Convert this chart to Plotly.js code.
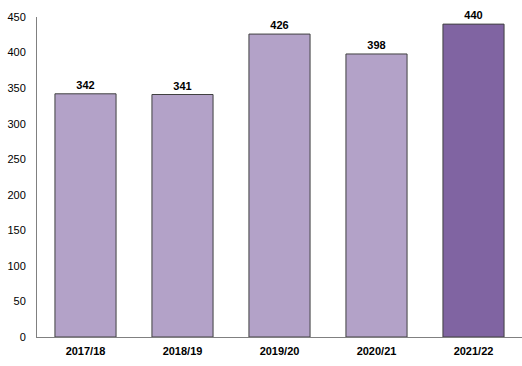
<!DOCTYPE html>
<html><head><meta charset="utf-8">
<script src="https://cdn.plot.ly/plotly-3.0.1.min.js"></script>
<style>body{margin:0;padding:0;background:#fff}#chart{width:522px;height:366px}</style>
</head><body><div id="chart"></div>
<script>
const categories = ["2017/18","2018/19","2019/20","2020/21","2021/22"];
const values = [342, 341, 426, 398, 440];
const barColors = ["#B3A2C8","#B3A2C8","#B3A2C8","#B3A2C8","#8064A2"];
const tickVals = [0,50,100,150,200,250,300,350,400,450];

const font = {family: "Liberation Sans, Arial, sans-serif", size: 11, color: "#000"};
Plotly.newPlot("chart", [{
  type: "bar", x: categories, y: values,
  marker: {color: barColors, line: {color: "#404040", width: 1}},
  width: 0.63,
  text: values.map(v => "<b>" + v + "</b>"), textposition: "outside",
  textfont: {family: font.family, size: 11, color: "#000"},
  cliponaxis: false, hoverinfo: "none"
}], {
  width: 522, height: 366,
  margin: {l: 37, r: 0, t: 17, b: 29},
  paper_bgcolor: "#fff", plot_bgcolor: "#fff",
  showlegend: false,
  xaxis: {showline: true, linecolor: "#808080", linewidth: 1, ticks: "", showgrid: false,
    tickfont: font, tickprefix: "<b>", ticksuffix: "</b>", ticklabelstandoff: 4},
  yaxis: {range: [0, 450], tickvals: tickVals, showline: true, linecolor: "#808080", linewidth: 1,
    showgrid: false, zeroline: false, ticks: "", tickfont: font, tickprefix: "<b>", ticksuffix: "</b>", ticklabelstandoff: 8}
}, {staticPlot: true});
</script></body></html>
